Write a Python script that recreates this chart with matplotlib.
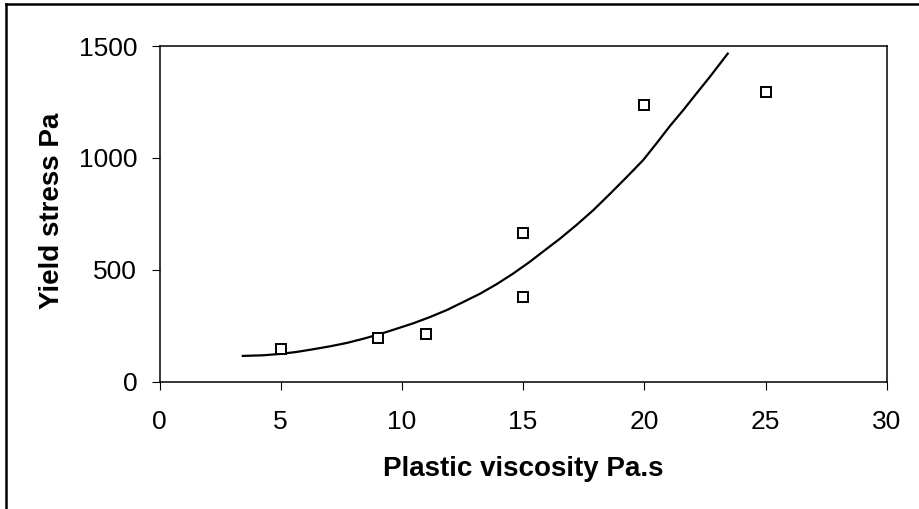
import numpy as np
import matplotlib
matplotlib.use("Agg")
import matplotlib.pyplot as plt
from matplotlib.lines import Line2D

plt.rcParams['font.family'] = ['Liberation Sans', 'DejaVu Sans']

# measured points
visc = [5, 9, 11, 15, 15, 20, 25]
stress = [145, 195, 213, 380, 663, 1236, 1296]

# trend curve
curve_x = [3.39, 4.28, 4.97, 5.66, 6.34, 7.03, 7.72, 8.41, 9.10, 9.79, 10.47,
           11.16, 11.85, 12.53, 13.22, 13.91, 14.60, 15.28, 15.83, 16.52,
           17.21, 17.90, 18.58, 19.27, 19.96, 20.51, 21.06, 21.61, 22.16,
           22.71, 23.47]
curve_y = [115, 118, 124, 133, 145, 158, 173, 192, 213, 237, 261,
           289, 320, 356, 393, 436, 484, 536, 582, 639,
           701, 767, 839, 914, 991, 1066, 1143, 1214, 1289,
           1363, 1470]

xticks = [0, 5, 10, 15, 20, 25, 30]
yticks = [0, 500, 1000, 1500]

fig = plt.figure(figsize=(9.2, 5.09), dpi=100)
ax = fig.add_axes([0.1734, 0.2501, 0.7904, 0.6595])

ax.plot(curve_x, curve_y, color='black', lw=1.6, solid_capstyle='butt')
ax.plot(visc, stress, linestyle='none', marker='s', markersize=7.5,
        markerfacecolor='white', markeredgecolor='black', markeredgewidth=1.4)

ax.set_xlim(0, 30)
ax.set_ylim(0, 1500)
ax.set_xticks(xticks)
ax.set_yticks(yticks)
ax.tick_params(axis='both', direction='out', length=5.5, width=0.8,
               labelsize=19, colors='black')
ax.tick_params(axis='x', pad=15)
ax.tick_params(axis='y', pad=10.5)
for s in ax.spines.values():
    s.set_linewidth(1.1)

ax.set_xlabel('Plastic viscosity Pa.s', fontsize=20, fontweight='bold')
ax.set_ylabel('Yield stress Pa', fontsize=20, fontweight='bold')
ax.xaxis.set_label_coords(0.5, -0.222)
ax.yaxis.set_label_coords(-0.130, 0.51)

# outer chart border (only top and left edges visible)
fig.add_artist(Line2D([6 / 920, 1.0], [1 - 4 / 509, 1 - 4 / 509],
                      transform=fig.transFigure, color='black', lw=1.8))
fig.add_artist(Line2D([6 / 920, 6 / 920], [0.0, 1 - 4 / 509],
                      transform=fig.transFigure, color='black', lw=1.8))

fig.savefig('out.png', dpi=100)
